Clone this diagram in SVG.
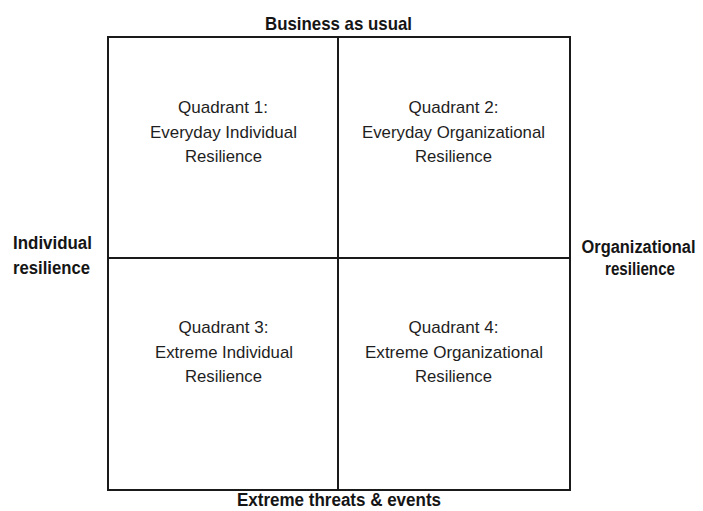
<svg xmlns="http://www.w3.org/2000/svg" width="703" height="511" viewBox="0 0 703 511">
<style>
.q{font-family:"Liberation Sans",Arial,sans-serif;font-size:17px;fill:#1e1e1e;text-anchor:middle}
.a{font-family:"Liberation Sans",Arial,sans-serif;font-weight:bold;fill:#151515;text-anchor:middle}
.ln{stroke:#1a1a1a;stroke-width:2;fill:none}
</style>
<rect width="703" height="511" fill="#fff"/>
<g id="frame"><rect class="ln" x="108" y="37" width="462" height="453"/></g>
<g id="connectors">
<line class="ln" x1="338" y1="37" x2="338" y2="490"/>
<line class="ln" x1="108" y1="258" x2="570" y2="258"/>
</g>
<g id="q1"><text class="q" x="223" y="113" textLength="90" lengthAdjust="spacingAndGlyphs">Quadrant 1:</text><text class="q" x="223.5" y="137.5" textLength="147" lengthAdjust="spacingAndGlyphs">Everyday Individual</text><text class="q" x="223.5" y="162" textLength="77" lengthAdjust="spacingAndGlyphs">Resilience</text></g>
<g id="q2"><text class="q" x="453.5" y="113" textLength="90" lengthAdjust="spacingAndGlyphs">Quadrant 2:</text><text class="q" x="453.5" y="137.5" textLength="183" lengthAdjust="spacingAndGlyphs">Everyday Organizational</text><text class="q" x="453.5" y="162" textLength="77" lengthAdjust="spacingAndGlyphs">Resilience</text></g>
<g id="q3"><text class="q" x="223.5" y="333" textLength="90" lengthAdjust="spacingAndGlyphs">Quadrant 3:</text><text class="q" x="224" y="357.5" textLength="138" lengthAdjust="spacingAndGlyphs">Extreme Individual</text><text class="q" x="223.5" y="382" textLength="77" lengthAdjust="spacingAndGlyphs">Resilience</text></g>
<g id="q4"><text class="q" x="453.5" y="333" textLength="90" lengthAdjust="spacingAndGlyphs">Quadrant 4:</text><text class="q" x="454" y="357.5" textLength="178" lengthAdjust="spacingAndGlyphs">Extreme Organizational</text><text class="q" x="453.5" y="382" textLength="77" lengthAdjust="spacingAndGlyphs">Resilience</text></g>
<g id="top"><text class="a" x="338.5" y="30" font-size="19" textLength="147" lengthAdjust="spacingAndGlyphs">Business as usual</text></g>
<g id="bottom"><text class="a" x="339" y="506" font-size="18" textLength="204" lengthAdjust="spacingAndGlyphs">Extreme threats &amp; events</text></g>
<g id="left"><text class="a" x="52.5" y="249" font-size="17.5" textLength="79" lengthAdjust="spacingAndGlyphs">Individual</text><text class="a" x="51.5" y="274" font-size="17.5" textLength="77" lengthAdjust="spacingAndGlyphs">resilience</text></g>
<g id="right"><text class="a" x="638.5" y="253" font-size="17.5" textLength="114" lengthAdjust="spacingAndGlyphs">Organizational</text><text class="a" x="640" y="275" font-size="17.5" textLength="70" lengthAdjust="spacingAndGlyphs">resilience</text></g>
</svg>
